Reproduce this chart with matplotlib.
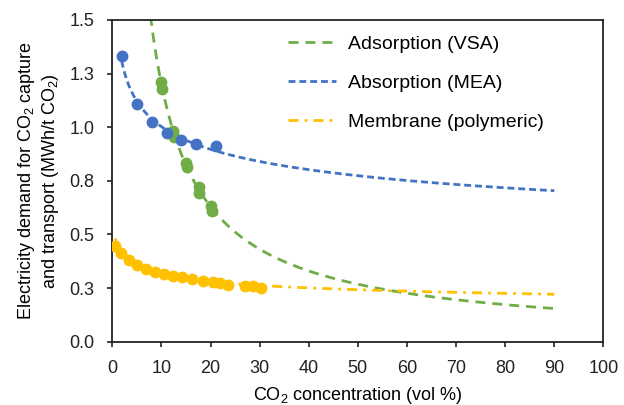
import numpy as np
import matplotlib
matplotlib.use('Agg')
import matplotlib.pyplot as plt

plt.rcParams['font.family'] = ['Liberation Sans', 'DejaVu Sans']
plt.rcParams['mathtext.default'] = 'regular'

# data
vsa_x = [10.0, 10.1, 12.4, 12.6, 15.1, 15.2, 17.6, 17.7, 20.1, 20.2]
vsa_y = [1.21, 1.18, 0.98, 0.955, 0.835, 0.815, 0.72, 0.695, 0.635, 0.61]

mea_x = [1.9, 5.0, 8.1, 11.1, 14.0, 17.1, 21.1]
mea_y = [1.33, 1.11, 1.024, 0.974, 0.938, 0.922, 0.914]

mem_x = [0.6, 1.8, 3.3, 5.1, 6.9, 8.6, 10.5, 12.4, 14.1, 16.2, 18.4, 20.4,
         22.0, 23.6, 27.1, 28.6, 30.2]
mem_y = [0.445, 0.414, 0.383, 0.356, 0.341, 0.327, 0.316, 0.307, 0.300,
         0.293, 0.283, 0.277, 0.272, 0.267, 0.259, 0.258, 0.253]

green = '#70AD47'
blue = '#4472C4'
gold = '#FFC000'


def power_fit(x, y, x_from, x_to):
    b, loga = np.polyfit(np.log(x), np.log(y), 1)
    xs = np.linspace(x_from, x_to, 300)
    return xs, np.exp(loga) * xs ** b


fig = plt.figure(figsize=(6.24, 4.05), dpi=100)
ax = fig.add_axes([0.18, 0.156, 0.787, 0.795])

xs, ys = power_fit(vsa_x, vsa_y, 5, 90)
ax.plot(xs, ys, color=green, lw=2, dashes=(3.6, 2.5), label='Adsorption (VSA)')
xs, ys = power_fit(mea_x, mea_y, 1.9, 90)
ax.plot(xs, ys, color=blue, lw=2, dashes=(2.5, 1.4), label='Absorption (MEA)')
xs, ys = power_fit(mem_x, mem_y, 0.6, 90)
ax.plot(xs, ys, color=gold, lw=2, dashes=(3.6, 2.2, 1, 2.2), label='Membrane (polymeric)')

ax.plot(vsa_x, vsa_y, 'o', color=green, ms=7.5, zorder=3)
ax.plot(mea_x, mea_y, 'o', color=blue, ms=7.5, zorder=3)
ax.plot(mem_x, mem_y, 'o', color=gold, ms=7.5, zorder=3)

ax.set_xlim(0, 100)
ax.set_ylim(0, 1.5)
ax.set_xticks(np.arange(0, 101, 10))
yt = np.arange(0, 1.51, 0.25)
ax.set_yticks(yt)
ax.set_yticklabels(['0.0', '0.3', '0.5', '0.8', '1.0', '1.3', '1.5'])
ax.tick_params(labelsize=13, direction='out', length=3.6, width=1.2,
               pad=9.5, colors='#222222')
for s in ax.spines.values():
    s.set_linewidth(1.3)
    s.set_color('#222222')

ax.set_xlabel('CO$_2$ concentration (vol %)', fontsize=13, labelpad=5.5)
ax.set_ylabel('Electricity demand for CO$_2$ capture\nand transport (MWh/t CO$_2$)',
              fontsize=13, labelpad=6)

ax.legend(loc='upper left', bbox_to_anchor=(0.341, 0.975), frameon=False,
          fontsize=14, handlelength=2.5, labelspacing=1.08, handletextpad=0.6,
          borderaxespad=0)

fig.savefig('out.png', dpi=100)
